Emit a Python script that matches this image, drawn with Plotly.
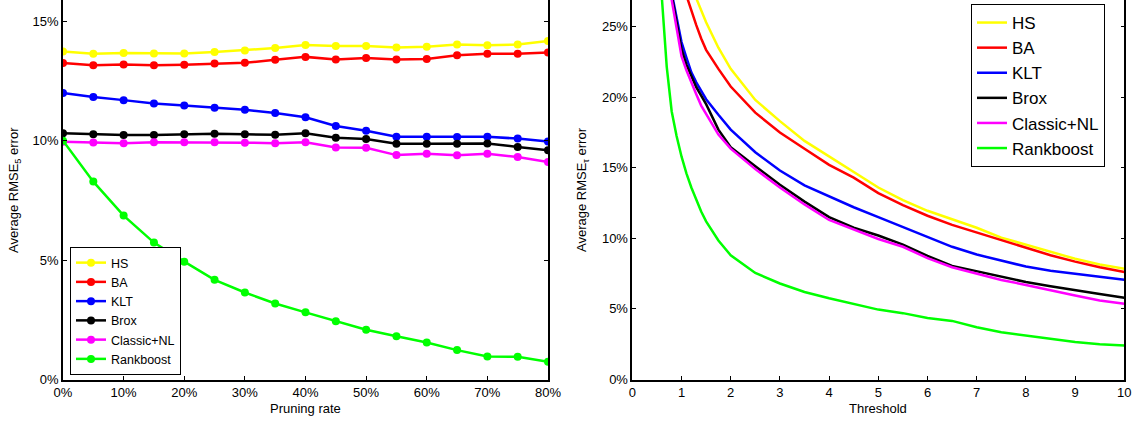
import plotly.graph_objects as go

# ---------------- data ----------------
methods = ["HS", "BA", "KLT", "Brox", "Classic+NL", "Rankboost"]
colors = ["#FFFF00", "#FF0000", "#0000FF", "#000000", "#FF00FF", "#00FF00"]

# Left panel: average RMSE_5 error (%) vs pruning rate (%)
pruning_rate = [0, 5, 10, 15, 20, 25, 30, 35, 40, 45, 50, 55, 60, 65, 70, 75, 80]
hs_prune = [13.73, 13.63, 13.66, 13.64, 13.64, 13.70, 13.77, 13.87, 14.00, 13.96, 13.96, 13.89, 13.92, 14.02, 13.99, 14.02, 14.16]
ba_prune = [13.24, 13.15, 13.18, 13.15, 13.17, 13.22, 13.25, 13.38, 13.50, 13.39, 13.45, 13.39, 13.41, 13.57, 13.63, 13.63, 13.68]
klt_prune = [11.99, 11.82, 11.69, 11.55, 11.47, 11.37, 11.29, 11.15, 10.97, 10.61, 10.41, 10.16, 10.16, 10.15, 10.16, 10.08, 9.96]
brox_prune = [10.30, 10.26, 10.23, 10.23, 10.26, 10.28, 10.26, 10.24, 10.30, 10.12, 10.06, 9.87, 9.87, 9.87, 9.88, 9.73, 9.59]
cnl_prune = [9.95, 9.92, 9.89, 9.93, 9.93, 9.93, 9.91, 9.89, 9.93, 9.71, 9.70, 9.39, 9.45, 9.38, 9.45, 9.31, 9.10]
rank_prune = [9.99, 8.28, 6.86, 5.73, 4.93, 4.17, 3.64, 3.18, 2.81, 2.44, 2.08, 1.81, 1.55, 1.23, 0.96, 0.95, 0.74]

# Right panel: average RMSE_tau error (%) vs threshold
threshold = [0.5, 0.6, 0.7, 0.8, 0.9, 1.0, 1.1, 1.2, 1.3, 1.4, 1.5, 1.75, 2, 2.5, 3, 3.5, 4,
             4.5, 5, 5.5, 6, 6.5, 7, 7.5, 8, 8.5, 9, 9.5, 10]
hs_thr = [46, 41, 37, 34, 32, 30.3, 29.0, 27.9, 27.0, 26.1, 25.3, 23.5, 22.0, 19.8, 18.3, 16.9, 15.8,
          14.7, 13.6, 12.7, 11.95, 11.35, 10.75, 10.05, 9.55, 9.0, 8.55, 8.15, 7.85]
ba_thr = [41, 37.5, 34.5, 32, 30, 28.3, 27.2, 26.1, 25.1, 24.15, 23.35, 22.0, 20.75, 18.9, 17.5, 16.35, 15.2,
          14.3, 13.2, 12.35, 11.6, 10.95, 10.4, 9.85, 9.3, 8.8, 8.35, 7.95, 7.61]
klt_thr = [38, 33.5, 30, 27.4, 25.6, 23.9, 22.8, 21.75, 21.05, 20.4, 19.85, 18.75, 17.7, 16.1, 14.8, 13.75, 12.95,
           12.2, 11.5, 10.8, 10.1, 9.4, 8.85, 8.4, 8.0, 7.7, 7.5, 7.25, 7.07]
brox_thr = [37.5, 33.2, 29.9, 27.2, 25.2, 23.4, 22.3, 21.45, 20.7, 20.1, 19.5, 17.7, 16.45, 15.1, 13.8, 12.6, 11.5,
            10.75, 10.2, 9.55, 8.75, 8.05, 7.65, 7.25, 6.9, 6.6, 6.35, 6.05, 5.79]
cnl_thr = [37, 32.8, 29.5, 26.9, 24.8, 22.9, 21.9, 21.0, 20.2, 19.4, 18.8, 17.35, 16.35, 14.9, 13.6, 12.4, 11.3,
           10.6, 9.95, 9.4, 8.6, 7.95, 7.5, 7.05, 6.7, 6.3, 5.95, 5.6, 5.37]
rank_thr = [32, 26.9, 22.15, 19.0, 17.25, 15.8, 14.6, 13.6, 12.7, 11.9, 11.2, 9.85, 8.8, 7.55, 6.8, 6.2, 5.75,
            5.35, 4.95, 4.7, 4.35, 4.15, 3.7, 3.35, 3.1, 2.85, 2.65, 2.5, 2.41]

left_x_ticks = [0, 10, 20, 30, 40, 50, 60, 70, 80]
left_x_labels = ["0%", "10%", "20%", "30%", "40%", "50%", "60%", "70%", "80%"]
left_y_ticks = [0, 5, 10, 15]
left_y_labels = ["0%", "5%", "10%", "15%"]
right_x_ticks = [0, 1, 2, 3, 4, 5, 6, 7, 8, 9, 10]
right_x_labels = ["0", "1", "2", "3", "4", "5", "6", "7", "8", "9", "10"]
right_y_ticks = [0, 5, 10, 15, 20, 25]
right_y_labels = ["0%", "5%", "10%", "15%", "20%", "25%"]

prune_series = [hs_prune, ba_prune, klt_prune, brox_prune, cnl_prune, rank_prune]
thr_series = [hs_thr, ba_thr, klt_thr, brox_thr, cnl_thr, rank_thr]

# ---------------- figure ----------------
W, H = 1136, 421
FONT = "Liberation Sans, Arial, Helvetica, sans-serif"

fig = go.Figure()
for name, col, ys in zip(methods, colors, prune_series):
    fig.add_trace(go.Scatter(
        x=pruning_rate, y=ys, name=name, mode="lines+markers",
        line=dict(color=col, width=2.5), marker=dict(color=col, size=8),
        xaxis="x", yaxis="y", legend="legend", cliponaxis=True,
    ))
for name, col, ys in zip(methods, colors, thr_series):
    fig.add_trace(go.Scatter(
        x=threshold, y=ys, name=name, mode="lines",
        line=dict(color=col, width=2.5),
        xaxis="x2", yaxis="y2", legend="legend2",
    ))

def px_x(p):
    return p / W

def px_y(p):
    return 1 - p / H

L_dom = [px_x(63), px_x(548)]
R_dom = [px_x(632.3), px_x(1124.3)]
Y_dom = [px_y(379.5), 1.0]

axis_common = dict(
    showgrid=False, zeroline=False, showline=True, linecolor="black", linewidth=1.5,
    ticks="inside", ticklen=4, tickcolor="black", tickwidth=1, tickmode="array",
    tickfont=dict(family=FONT, size=13, color="black"),
)
top_common = dict(
    showgrid=False, zeroline=False, showline=False, ticks="inside", ticklen=4,
    tickcolor="black", tickwidth=1, showticklabels=False, side="top", tickmode="array",
)

fig.update_layout(
    width=W, height=H,
    margin=dict(l=0, r=0, t=0, b=0, autoexpand=False),
    paper_bgcolor="white", plot_bgcolor="white",
    font=dict(family=FONT, size=13, color="black"),
    xaxis=dict(domain=L_dom, range=[0, 80], tickvals=left_x_ticks, ticktext=left_x_labels,
               anchor="y", mirror=False, **axis_common),
    yaxis=dict(domain=Y_dom, range=[0, 15.88], tickvals=left_y_ticks, ticktext=left_y_labels,
               anchor="x", mirror="ticks", **axis_common),
    xaxis2=dict(domain=R_dom, range=[0, 10], tickvals=right_x_ticks, ticktext=right_x_labels,
                anchor="y2", mirror=False, **axis_common),
    yaxis2=dict(domain=Y_dom, range=[0, 26.88], tickvals=right_y_ticks, ticktext=right_y_labels,
                anchor="x2", mirror="ticks", **axis_common),
    xaxis3=dict(overlaying="x", anchor="y", range=[0, 80], tickvals=left_x_ticks, **top_common),
    xaxis4=dict(overlaying="x2", anchor="y2", range=[0, 10], tickvals=right_x_ticks, **top_common),
    legend=dict(x=px_x(70), y=px_y(375), xanchor="left", yanchor="bottom",
                bgcolor="white", bordercolor="black", borderwidth=1,
                font=dict(family=FONT, size=12.5, color="black"), tracegroupgap=0),
    legend2=dict(x=px_x(971), y=px_y(4), xanchor="left", yanchor="top",
                 bgcolor="white", bordercolor="black", borderwidth=1,
                 font=dict(family=FONT, size=17, color="black"), tracegroupgap=0),
    showlegend=True,
)

annots = [
    dict(text="Pruning rate", x=px_x(305.5), y=px_y(408), xref="paper", yref="paper",
         xanchor="center", yanchor="middle",
         showarrow=False, font=dict(family=FONT, size=13, color="black")),
    dict(text="Threshold", x=px_x(878), y=px_y(408), xref="paper", yref="paper",
         xanchor="center", yanchor="middle",
         showarrow=False, font=dict(family=FONT, size=13, color="black")),
    dict(text="Average RMSE<sub>5</sub> error", x=px_x(15), y=px_y(190), xref="paper", yref="paper",
         xanchor="center", yanchor="middle",
         showarrow=False, textangle=-90, font=dict(family=FONT, size=13, color="black")),
    dict(text="Average RMSE<sub>τ</sub> error", x=px_x(583), y=px_y(190), xref="paper", yref="paper",
         xanchor="center", yanchor="middle",
         showarrow=False, textangle=-90, font=dict(family=FONT, size=13, color="black")),
]
fig.update_layout(annotations=annots)

fig.write_html("out.html")
